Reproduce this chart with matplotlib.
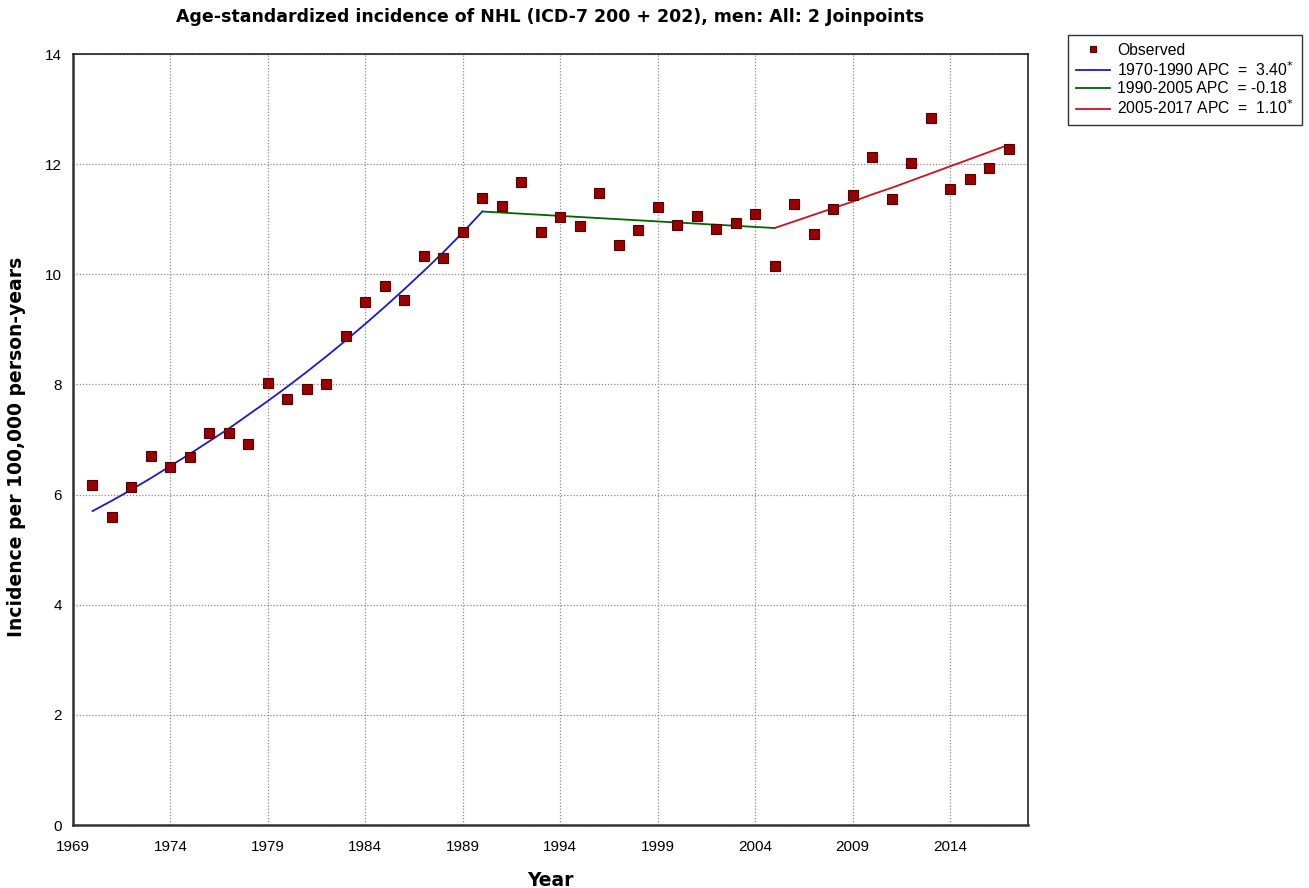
import matplotlib
matplotlib.use("Agg")
import matplotlib.pyplot as plt

years = list(range(1970, 2018))
observed = [6.17, 5.59, 6.14, 6.70, 6.50, 6.68, 7.12, 7.12, 6.92, 8.03,
            7.74, 7.92, 8.01, 8.88, 9.50, 9.79, 9.53, 10.33, 10.30, 10.77,
            11.39, 11.24, 11.68, 10.77, 11.04, 10.88, 11.48, 10.53, 10.80, 11.22,
            10.90, 11.06, 10.82, 10.93, 11.10, 10.15, 11.28, 10.73, 11.19, 11.44,
            12.13, 11.37, 12.02, 12.84, 11.55, 11.73, 11.93, 12.28]

seg1_years = list(range(1970, 1991))
seg1_fit = [5.70, 5.89, 6.09, 6.30, 6.52, 6.74, 6.97, 7.20, 7.45, 7.70, 7.96,
            8.23, 8.51, 8.80, 9.10, 9.41, 9.73, 10.06, 10.40, 10.76, 11.14]
seg2_years = list(range(1990, 2006))
seg2_fit = [11.14, 11.12, 11.10, 11.08, 11.06, 11.04, 11.02, 11.00, 10.98, 10.96,
            10.94, 10.92, 10.90, 10.88, 10.86, 10.84]
seg3_years = list(range(2005, 2018))
seg3_fit = [10.84, 10.96, 11.08, 11.20, 11.32, 11.45, 11.57, 11.70, 11.83, 11.96,
            12.09, 12.22, 12.35]

seg_labels = ["1970-1990 APC  =  3.40$^{*}$", "1990-2005 APC  = -0.18", "2005-2017 APC  =  1.10$^{*}$"]
seg_colors = ["#1a1acc", "#006400", "#d01020"]

xticks = [1969, 1974, 1979, 1984, 1989, 1994, 1999, 2004, 2009, 2014]
yticks = [0, 2, 4, 6, 8, 10, 12, 14]

W, H = 1309, 888
fig = plt.figure(figsize=(W / 100, H / 100), dpi=100)
ax = fig.add_axes([73 / W, 1 - 825 / H, (1028 - 73) / W, (825 - 54) / H])

ax.plot(years, observed, linestyle="none", marker="s", markersize=6.5,
        markerfacecolor="#990000", markeredgecolor="#550000", markeredgewidth=0.8,
        label="Observed", zorder=4)
for xs, ys, lab, col in zip([seg1_years, seg2_years, seg3_years],
                            [seg1_fit, seg2_fit, seg3_fit], seg_labels, seg_colors):
    ax.plot(xs, ys, color=col, linewidth=1.3, label=lab, zorder=3)

ax.set_xlim(1969, 2018)
ax.set_ylim(0, 14)
ax.set_xticks(xticks)
ax.set_yticks(yticks)
ax.grid(True, linestyle=(0, (1, 1.5)), color="#888888", linewidth=0.9)
ax.tick_params(axis="x", length=0, labelsize=11, pad=11)
ax.tick_params(axis="y", length=0, labelsize=11, pad=8)
for lab in ax.get_xticklabels() + ax.get_yticklabels():
    lab.set_fontfamily("Liberation Sans")
for side in ["left", "bottom"]:
    ax.spines[side].set_linewidth(1.8)
    ax.spines[side].set_color("#333333")
for side in ["top", "right"]:
    ax.spines[side].set_linewidth(1.2)
    ax.spines[side].set_color("#222222")

fig.text(550 / W, 1 - 17 / H,
         "Age-standardized incidence of NHL (ICD-7 200 + 202), men: All: 2 Joinpoints",
         fontsize=12.5, fontweight="bold", ha="center", va="center")
fig.text(550 / W, 1 - 880 / H, "Year", fontsize=13.5, fontweight="bold",
         ha="center", va="center")
fig.text(17 / W, 1 - 447 / H, "Incidence per 100,000 person-years", fontsize=13.5,
         fontweight="bold", ha="center", va="center", rotation=90)

handles, labels = ax.get_legend_handles_labels()
leg = fig.legend(handles, labels, loc="upper left", bbox_to_anchor=(1068 / W, 1 - 35 / H),
                 prop={"family": "Liberation Sans", "size": 11.3}, frameon=True,
                 fancybox=False, edgecolor="black", handlelength=2.2, borderpad=0.5,
                 labelspacing=0.15, handletextpad=0.45, borderaxespad=0, markerscale=0.7)
leg.get_frame().set_linewidth(1.0)

fig.savefig("out.png", dpi=100, facecolor="white")
